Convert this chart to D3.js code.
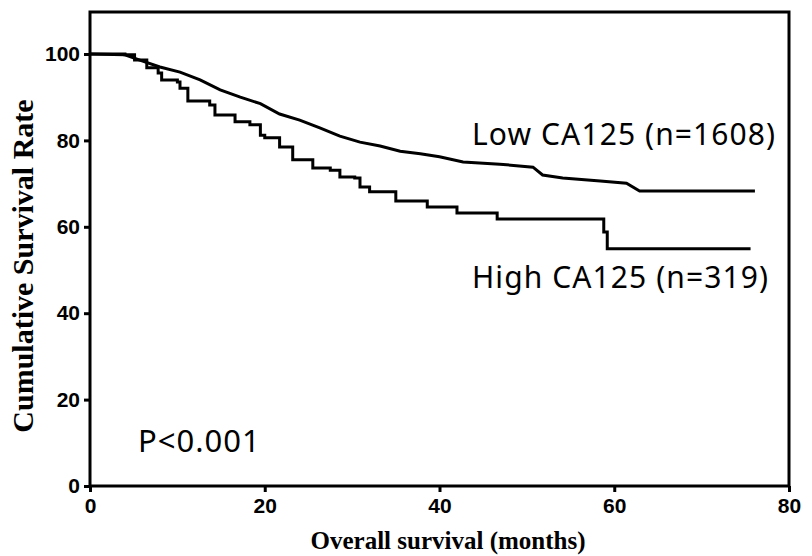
<!DOCTYPE html>
<html>
<head>
<meta charset="utf-8">
<script src="https://cdn.jsdelivr.net/npm/d3@7"></script>
<style>
  html, body { margin: 0; padding: 0; background: #fff; }
  svg { display: block; }
</style>
</head>
<body>
<svg id="chart" width="812" height="556"></svg>
<script>
// ---- data ----
const lowTime = [0, 4.0, 5.7, 8.0, 10.3, 12.6, 14.9, 17.2, 19.5, 21.7, 24.0, 26.3, 28.6, 30.9, 33.2, 35.5, 37.8, 40.0, 42.7, 46.9, 50.7, 51.8, 54.1, 58.4, 61.4, 62.9, 76.1];
const lowSurv = [100, 99.8, 98.6, 97.0, 95.8, 94.0, 91.7, 90.0, 88.5, 86.1, 84.7, 82.9, 81.0, 79.6, 78.7, 77.5, 76.9, 76.2, 75.0, 74.5, 73.8, 72.0, 71.3, 70.6, 70.1, 68.3, 68.3];

const highTime = [0, 4.0, 5.1, 6.5, 7.8, 8.2, 10.0, 10.3, 11.2, 13.7, 14.3, 16.6, 18.3, 19.5, 20.0, 21.7, 23.2, 25.5, 27.5, 28.6, 30.3, 30.9, 32.0, 35.0, 38.6, 42.0, 46.6, 58.8, 59.2, 75.6];
const highSurv = [100, 99.8, 98.6, 96.8, 95.6, 94.0, 93.5, 92.1, 89.1, 88.2, 85.9, 84.3, 83.6, 81.2, 80.6, 78.5, 75.5, 73.6, 73.1, 71.5, 71.3, 69.2, 68.1, 66.0, 64.6, 63.2, 61.8, 58.8, 54.9, 54.9];

const xTicks = [0, 20, 40, 60, 80];
const yTicks = [0, 20, 40, 60, 80, 100];
const labels = ["Low CA125 (n=1608)", "High CA125 (n=319)"];
const pText = "P<0.001";
const xTitle = "Overall survival (months)";
const yTitle = "Cumulative Survival Rate";

// ---- layout ----
const svg = d3.select("#chart");
const L = 90, R = 789, T = 12, B = 486;
const x = d3.scaleLinear().domain([0, 80]).range([L, R]);
const y = d3.scaleLinear().domain([0, 100]).range([B, 54]);

const tickFont = "'Liberation Sans', Arial, sans-serif";
const serif = "'Liberation Serif', 'Times New Roman', serif";
const annFont = "'Noto Sans', 'Open Sans', sans-serif";

// frame
svg.append("rect")
  .attr("x", L).attr("y", T).attr("width", R - L).attr("height", B - T)
  .attr("fill", "none").attr("stroke", "#000").attr("stroke-width", 3);

// axes
const xAxis = d3.axisBottom(x).tickValues(xTicks).tickSize(6).tickPadding(6);
const gx = svg.append("g").attr("transform", `translate(0,${B})`).call(xAxis);
gx.select(".domain").remove();
gx.selectAll("line").attr("stroke", "#000").attr("stroke-width", 3);
gx.selectAll("text").attr("font-family", tickFont).attr("font-weight", "bold")
  .attr("font-size", 21).attr("fill", "#000");

const yAxis = d3.axisLeft(y).tickValues(yTicks).tickSize(6).tickPadding(4);
const gy = svg.append("g").attr("transform", `translate(${L},0)`).call(yAxis);
gy.select(".domain").remove();
gy.selectAll("line").attr("stroke", "#000").attr("stroke-width", 3);
gy.selectAll("text").attr("font-family", tickFont).attr("font-weight", "bold")
  .attr("font-size", 21).attr("fill", "#000");

// curves
const lowData = lowTime.map((t, i) => [t, lowSurv[i]]);
const highData = highTime.map((t, i) => [t, highSurv[i]]);

svg.append("path").datum(lowData)
  .attr("d", d3.line().x(d => x(d[0])).y(d => y(d[1])).curve(d3.curveLinear))
  .attr("fill", "none").attr("stroke", "#000").attr("stroke-width", 3)
  .attr("stroke-linejoin", "miter");

svg.append("path").datum(highData)
  .attr("d", d3.line().x(d => x(d[0])).y(d => y(d[1])).curve(d3.curveStepAfter))
  .attr("fill", "none").attr("stroke", "#000").attr("stroke-width", 3)
  .attr("stroke-linejoin", "miter");

// annotations
svg.append("text").attr("x", 472).attr("y", 145).text(labels[0])
  .attr("font-family", annFont).attr("font-size", 30).attr("letter-spacing", 1.1).attr("fill", "#000");
svg.append("text").attr("x", 472).attr("y", 288).text(labels[1])
  .attr("font-family", annFont).attr("font-size", 30).attr("letter-spacing", 1.1).attr("fill", "#000");
svg.append("text").attr("x", 138).attr("y", 452).text(pText)
  .attr("font-family", annFont).attr("font-size", 31).attr("letter-spacing", 1.0).attr("fill", "#000");

// axis titles
svg.append("text").attr("x", 448).attr("y", 549).attr("text-anchor", "middle")
  .text(xTitle).attr("font-family", serif).attr("font-weight", "bold")
  .attr("font-size", 25).attr("fill", "#000");
svg.append("text").attr("transform", "translate(33,266) rotate(-90)")
  .attr("text-anchor", "middle").text(yTitle)
  .attr("font-family", serif).attr("font-weight", "bold")
  .attr("font-size", 30).attr("fill", "#000");
</script>
</body>
</html>
